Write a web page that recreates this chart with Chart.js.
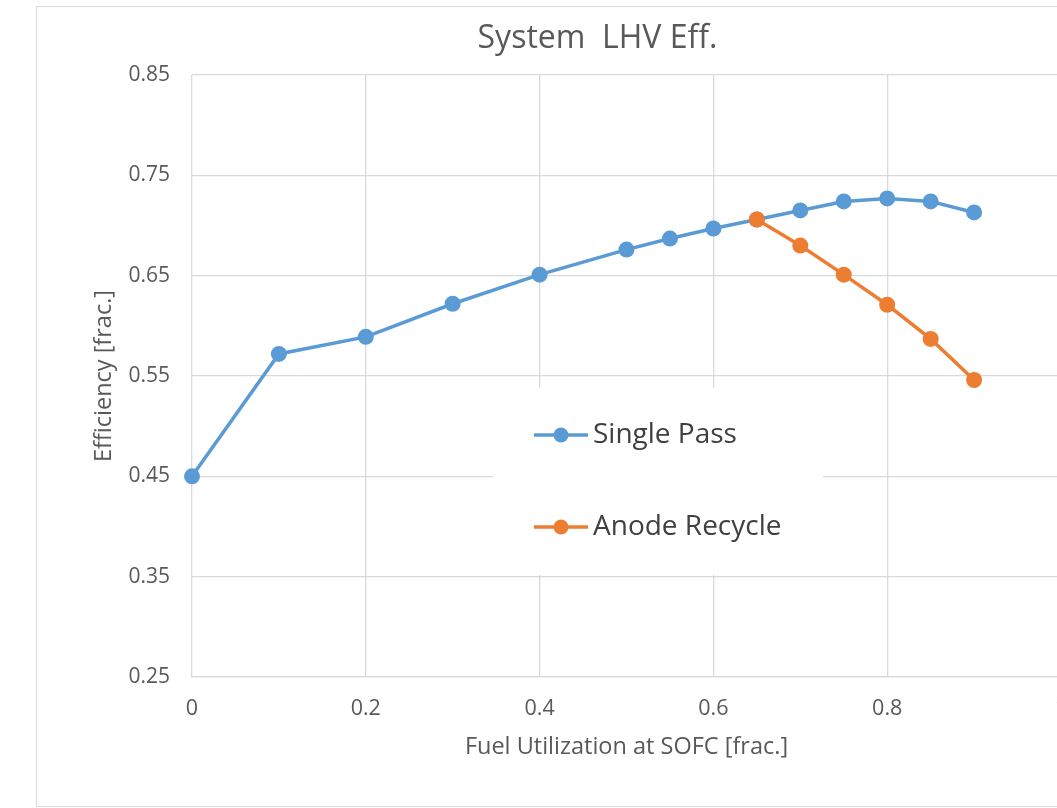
<!DOCTYPE html>
<html>
<head>
<meta charset="utf-8">
<script src="https://cdn.jsdelivr.net/npm/chart.js@4/dist/chart.umd.min.js"></script>
<style>
  html, body { margin: 0; padding: 0; background: #fff; overflow: hidden; }
  #frame {
    position: absolute; left: 36px; top: 6px;
    width: 1121px; height: 799px;
    border: 1px solid #d9d9d9;
  }
</style>
</head>
<body>
<div id="frame"><canvas id="effChart"></canvas></div>
<script>
// fuel utilization points and system LHV efficiency
const fuSingle = [0, 0.1, 0.2, 0.3, 0.4, 0.5, 0.55, 0.6, 0.65, 0.7, 0.75, 0.8, 0.85, 0.9];
const effSingle = [0.450, 0.572, 0.589, 0.622, 0.651, 0.676, 0.687, 0.697, 0.706, 0.715, 0.724, 0.727, 0.724, 0.713];
const fuRecycle = [0.65, 0.7, 0.75, 0.8, 0.85, 0.9];
const effRecycle = [0.706, 0.680, 0.651, 0.621, 0.587, 0.546];
const seriesNames = ['Single Pass', 'Anode Recycle'];
const xTicks = [0, 0.2, 0.4, 0.6, 0.8, 1];
const yTicks = [0.25, 0.35, 0.45, 0.55, 0.65, 0.75, 0.85];
const chartTitle = 'System  LHV Eff.';

const FONT = "'Open Sans', sans-serif";
const GRID = '#d9d9d9';
const TEXT = '#595959';

const toPoints = (xs, ys) => xs.map((x, i) => ({ x: x, y: ys[i] }));

// title centred on the whole canvas, legend box inside the plot over the gridlines
const chartLabels = {
    id: 'chartLabels',
    afterDraw(chart) {
        const ctx = chart.ctx;
        ctx.save();
        ctx.fillStyle = TEXT;
        ctx.font = '32px ' + FONT;
        ctx.textAlign = 'center';
        ctx.textBaseline = 'middle';
        ctx.fillText(chartTitle, chart.width / 2, 32);

        const box = { x: 456, y: 381, w: 330, h: 187 };
        ctx.fillStyle = '#fff';
        ctx.fillRect(box.x, box.y, box.w, box.h);
        chart.data.datasets.forEach((ds, i) => {
            const y = 428 + i * 92;
            ctx.strokeStyle = ds.borderColor;
            ctx.lineWidth = 3.5;
            ctx.beginPath();
            ctx.moveTo(497, y);
            ctx.lineTo(551, y);
            ctx.stroke();
            ctx.fillStyle = ds.backgroundColor;
            ctx.beginPath();
            ctx.arc(524, y, 7.5, 0, Math.PI * 2);
            ctx.fill();
            ctx.fillStyle = '#404040';
            ctx.font = '28px ' + FONT;
            ctx.textAlign = 'left';
            ctx.fillText(ds.label, 556, y);
        });
        ctx.restore();
    }
};

new Chart(document.getElementById('effChart'), {
    type: 'line',
    data: {
        datasets: [
            {
                label: seriesNames[0],
                data: toPoints(fuSingle, effSingle),
                borderColor: '#5b9bd5', backgroundColor: '#5b9bd5',
                borderWidth: 3.5, pointRadius: 8, pointBorderWidth: 0,
                tension: 0, clip: false, order: 1
            },
            {
                label: seriesNames[1],
                data: toPoints(fuRecycle, effRecycle),
                borderColor: '#ed7d31', backgroundColor: '#ed7d31',
                borderWidth: 3.5, pointRadius: 8, pointBorderWidth: 0,
                tension: 0, clip: false, order: 0
            }
        ]
    },
    options: {
        responsive: true, maintainAspectRatio: false,
        animation: false,
        layout: { padding: { left: 0, right: 97, top: 68, bottom: 0 } },
        plugins: {
            legend: { display: false },
            tooltip: { enabled: false },
            title: { display: false }
        },
        scales: {
            x: {
                type: 'linear', min: 0, max: 1,
                afterBuildTicks: s => { s.ticks = xTicks.map(v => ({ value: v })); },
                afterFit: s => { s.height = 129; },
                grid: { color: GRID, lineWidth: 1.3, drawTicks: false },
                border: { color: GRID, width: 1.3 },
                ticks: {
                    color: TEXT, padding: 19,
                    font: { family: FONT, size: 21.5 },
                    callback: v => String(v)
                },
                title: {
                    display: true, text: 'Fuel Utilization at SOFC [frac.]',
                    color: TEXT, font: { family: FONT, size: 23.5 },
                    padding: { top: 0, bottom: 45 }
                }
            },
            y: {
                type: 'linear', min: 0.25, max: 0.85,
                afterBuildTicks: s => { s.ticks = yTicks.map(v => ({ value: v })); },
                afterFit: s => { s.width = 155; },
                grid: { color: GRID, lineWidth: 1.3, drawTicks: false },
                border: { display: false },
                ticks: {
                    color: TEXT, padding: 22,
                    font: { family: FONT, size: 21 },
                    callback: v => v.toFixed(2)
                },
                title: {
                    display: true, text: 'Efficiency [frac.]',
                    color: TEXT, font: { family: FONT, size: 23.5 },
                    padding: { top: 53, bottom: 0 }
                }
            }
        }
    },
    plugins: [chartLabels]
});
</script>
</body>
</html>
